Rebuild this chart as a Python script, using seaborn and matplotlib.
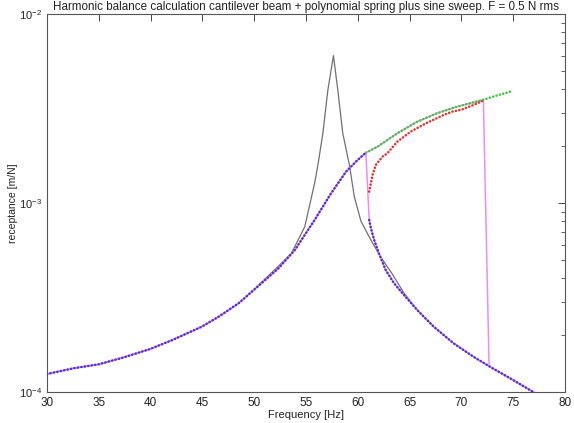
import numpy as np
import pandas as pd
import matplotlib
matplotlib.use("Agg")
import matplotlib.pyplot as plt
import matplotlib.ticker as mticker
import seaborn as sns

# ---- data ----
# linear FRF (black)
black_f = [30.0, 32.52, 34.98, 37.31, 39.96, 42.10, 44.94, 46.57, 48.49, 49.76, 52.32, 53.59,
           54.88, 55.83, 56.15, 56.63, 57.11, 57.65, 58.07, 58.55, 59.19, 59.67, 60.30, 61.26,
           62.21, 63.33, 64.45, 65.73, 67.33, 69.24, 71.16, 72.75, 74.99, 77.3]
black_v = [1.245e-4, 1.334e-4, 1.401e-4, 1.519e-4, 1.689e-4, 1.884e-4, 2.216e-4, 2.503e-4,
           2.946e-4, 3.40e-4, 4.62e-4, 5.42e-4, 7.49e-4, 1.271e-3, 1.589e-3, 2.337e-3, 3.96e-3,
           6.02e-3, 3.96e-3, 2.337e-3, 1.589e-3, 1.075e-3, 8.03e-4, 6.37e-4, 5.18e-4, 4.21e-4,
           3.34e-4, 2.72e-4, 2.216e-4, 1.810e-4, 1.537e-4, 1.361e-4, 1.157e-4, 9.73e-5]

# harmonic balance: lower-left stable branch (blue)
left_f = [30.0, 32.52, 34.98, 37.31, 39.96, 42.10, 44.94, 46.57, 48.49, 49.76, 52.32, 53.92,
          55.83, 57.42, 58.86, 59.98, 60.78]
left_v = [1.245e-4, 1.334e-4, 1.401e-4, 1.519e-4, 1.689e-4, 1.884e-4, 2.216e-4, 2.503e-4,
          2.946e-4, 3.39e-4, 4.50e-4, 5.64e-4, 8.13e-4, 1.125e-3, 1.464e-3, 1.689e-3, 1.845e-3]

# lower-right stable branch (blue)
right_f = [61.10, 61.26, 61.58, 62.06, 62.69, 63.50, 64.45, 65.73, 67.33, 69.24, 71.16, 72.75,
           74.99, 77.3]
right_v = [8.13e-4, 7.37e-4, 6.37e-4, 5.37e-4, 4.42e-4, 3.76e-4, 3.26e-4, 2.716e-4, 2.216e-4,
           1.810e-4, 1.537e-4, 1.361e-4, 1.157e-4, 9.73e-5]

# upper stable branch (green)
upper_f = [60.78, 61.90, 63.81, 65.73, 67.64, 69.56, 70.83, 72.12, 73.39, 74.99]
upper_v = [1.845e-3, 1.986e-3, 2.337e-3, 2.692e-3, 2.983e-3, 3.232e-3, 3.369e-3, 3.52e-3,
           3.70e-3, 3.92e-3]

# unstable branch (red)
red_f = [61.10, 61.42, 61.73, 62.38, 62.85, 63.81, 65.09, 66.69, 68.29, 69.08, 70.04, 71.28, 72.05]
red_v = [1.148e-3, 1.406e-3, 1.589e-3, 1.758e-3, 1.832e-3, 2.110e-3, 2.383e-3, 2.660e-3,
         2.921e-3, 3.041e-3, 3.12e-3, 3.32e-3, 3.47e-3]

# jump points of the sine sweeps
jump_up_f = [72.12, 72.67]
jump_up_v = [3.52e-3, 1.39e-4]

title = "Harmonic balance calculation cantilever beam + polynomial spring plus sine sweep. F = 0.5 N rms"
x_ticks = [30, 35, 40, 45, 50, 55, 60, 65, 70, 75, 80]

# sweeps built from the branches
sweep_up_f = left_f + upper_f[1:8] + jump_up_f[1:] + right_f[-3:]
sweep_up_v = left_v + upper_v[1:8] + jump_up_v[1:] + right_v[-3:]
sweep_dn_f = right_f[::-1] + left_f[::-1]
sweep_dn_v = right_v[::-1] + left_v[::-1]

sns.set_style("white")
plt.rcParams['font.family'] = ['Liberation Sans', 'DejaVu Sans']
plt.rcParams['mathtext.fontset'] = 'custom'
plt.rcParams['mathtext.rm'] = 'Liberation Sans'

fig = plt.figure(figsize=(5.74, 4.23), dpi=100)
ax = fig.add_axes([47/574, 31/423, 518/574, 378/423])
ax.set_yscale('log')

dot = dict(linestyle=(0, (0.1, 1.3)), dash_capstyle='round', linewidth=1.8)

sns.lineplot(x=black_f, y=black_v, ax=ax, color='#707070', linewidth=0.9, sort=False,
             estimator=None, zorder=1)
sns.lineplot(x=sweep_up_f, y=sweep_up_v, ax=ax, color='#f08cf0', linewidth=1.1, sort=False,
             estimator=None, zorder=2)
sns.lineplot(x=sweep_dn_f, y=sweep_dn_v, ax=ax, color='#f08cf0', linewidth=1.1, sort=False,
             estimator=None, zorder=2)
sns.lineplot(x=red_f, y=red_v, ax=ax, color='#e83030', sort=False, estimator=None, zorder=3, **dot)
sns.lineplot(x=upper_f, y=upper_v, ax=ax, color='#44c444', sort=False, estimator=None, zorder=3, **dot)
sns.lineplot(x=left_f, y=left_v, ax=ax, color='#4a32d8', sort=False, estimator=None, zorder=4, **dot)
sns.lineplot(x=right_f, y=right_v, ax=ax, color='#4a32d8', sort=False, estimator=None, zorder=4, **dot)

ax.set_xlim(30, 80)
ax.set_ylim(1e-4, 1e-2)
ax.set_xticks(x_ticks)
ax.xaxis.set_major_formatter(mticker.FormatStrFormatter('%d'))
ax.yaxis.set_major_locator(mticker.LogLocator(base=10, numticks=5))
ax.yaxis.set_minor_locator(mticker.LogLocator(base=10, subs=np.arange(2, 10), numticks=12))
ax.yaxis.set_minor_formatter(mticker.NullFormatter())

ax.tick_params(axis='both', which='both', direction='in', top=True, right=True,
               colors='#444444', labelcolor='#222222')
ax.tick_params(axis='x', which='major', labelsize=8.5)
ax.tick_params(axis='y', which='major', labelsize=8)
ax.tick_params(axis='both', which='major', length=5, width=0.7)
ax.tick_params(axis='y', which='minor', length=3, width=0.6)
for s in ax.spines.values():
    s.set_color('#555555')
    s.set_linewidth(0.8)

ax.set_xlabel("Frequency [Hz]", fontsize=8, color='#222222', labelpad=1)
ax.set_ylabel("receptance [m/N]", fontsize=7.5, color='#222222')
ax.yaxis.set_label_coords(-29/518, 0.5)
ax.set_title(title, fontsize=8.4, color='#222222', pad=3)

fig.savefig("out.png", dpi=100)
